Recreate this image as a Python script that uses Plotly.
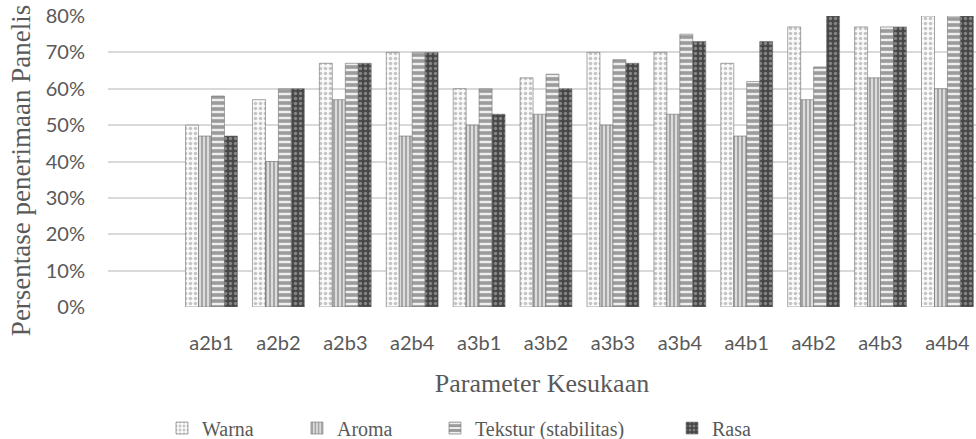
import plotly.graph_objects as go

# Panel acceptance (%) per treatment and sensory attribute
treatments = ["a2b1", "a2b2", "a2b3", "a2b4", "a3b1", "a3b2",
              "a3b3", "a3b4", "a4b1", "a4b2", "a4b3", "a4b4"]
warna = [50, 57, 67, 70, 60, 63, 70, 70, 67, 77, 77, 80]
aroma = [47, 40, 57, 47, 50, 53, 50, 53, 47, 57, 63, 60]
tekstur = [58, 60, 67, 70, 60, 64, 68, 75, 62, 66, 77, 80]
rasa = [47, 60, 67, 70, 53, 60, 67, 73, 73, 80, 77, 80]
y_ticks = [0, 10, 20, 30, 40, 50, 60, 70, 80]

series = [
    ("Warna", warna, dict(shape=".", fgcolor="#8f8f8f", bgcolor="#fafafa", size=5, solidity=0.4)),
    ("Aroma", aroma, dict(shape="|", fgcolor="#626262", bgcolor="#dcdcdc", size=4, solidity=0.45)),
    ("Tekstur (stabilitas)", tekstur, dict(shape="-", fgcolor="#474747", bgcolor="#eeeeee", size=6, solidity=0.6)),
    ("Rasa", rasa, dict(shape=".", fgcolor="#c4c4c4", bgcolor="#474747", size=5, solidity=0.35)),
]

# one legend per series so each entry can sit at its own x position
legend_x = [0.0622, 0.2177, 0.3767, 0.6498]

fig = go.Figure()
for i, (name, vals, pat) in enumerate(series):
    fig.add_trace(go.Bar(
        x=treatments, y=[v / 100 for v in vals], name=name,
        marker=dict(color=pat["bgcolor"], pattern=pat,
                    line=dict(color="#6e6e6e", width=0.6)),
        legend="legend" if i == 0 else f"legend{i + 1}",
    ))

font_serif = "Liberation Serif"
font_sans = "Lato"
txt = "#595959"

layout_legends = {}
for i, lx in enumerate(legend_x):
    key = "legend" if i == 0 else f"legend{i + 1}"
    layout_legends[key] = dict(
        x=lx, y=-0.416, xanchor="left", yanchor="middle",
        orientation="h", font=dict(family=font_serif, size=20, color=txt),
        itemwidth=30, bgcolor="rgba(0,0,0,0)",
    )

fig.update_layout(
    width=976, height=439,
    margin=dict(l=108, r=0, t=16, b=132, autoexpand=False),
    paper_bgcolor="white", plot_bgcolor="white",
    barmode="group", bargap=0.225, bargroupgap=0,
    showlegend=True,
    xaxis=dict(
        type="category", range=[-1.547, 11.427],
        showgrid=False, zeroline=False, showline=False,
        ticks="", ticklabelstandoff=22,
        tickfont=dict(family=font_sans, size=20, color=txt),
        title=dict(text="Parameter Kesukaan", standoff=20,
                   font=dict(family=font_serif, size=26, color=txt)),
    ),
    yaxis=dict(
        range=[0, 0.8], tickvals=[t / 100 for t in y_ticks],
        ticktext=[f"{t}%" for t in y_ticks],
        showgrid=True, gridcolor="#d9d9d9", gridwidth=2,
        zeroline=False, showline=False, ticks="",
        ticklabelstandoff=22,
        tickfont=dict(family=font_sans, size=20, color=txt),
    ),
    annotations=[dict(
        text="Persentase penerimaan Panelis", textangle=-90,
        xref="paper", yref="paper", x=-0.1002, y=0.467,
        xanchor="center", yanchor="middle", showarrow=False,
        font=dict(family=font_serif, size=27, color=txt),
    )],
    **layout_legends,
)

fig.write_html("out.html")
